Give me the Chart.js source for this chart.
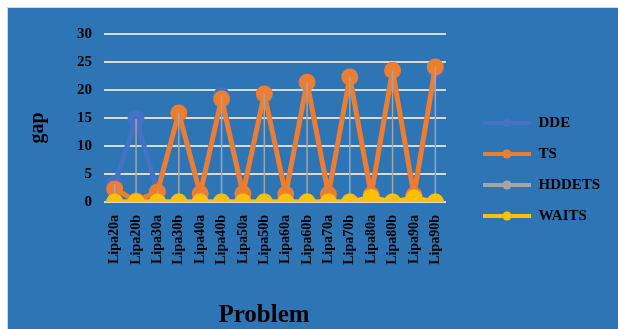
<!DOCTYPE html>
<html>
<head>
<meta charset="utf-8">
<script src="https://cdn.jsdelivr.net/npm/chart.js@4.4.1/dist/chart.umd.min.js"></script>
<style>
  html, body { margin: 0; padding: 0; background: #fff; }
  #frame { position: absolute; left: 7px; top: 7px; width: 610px; height: 321px;
           background: #2E75B6; border-left: 1px solid #d9d9d9; border-top: 1px solid #d9d9d9; }
  #gap-chart { position: absolute; left: 0; top: 0; }
</style>
</head>
<body>
<div id="frame"><canvas id="gap-chart" width="610" height="321"></canvas></div>
<script>
// Problems on the x axis
const problems = ['Lipa20a','Lipa20b','Lipa30a','Lipa30b','Lipa40a','Lipa40b','Lipa50a','Lipa50b',
                  'Lipa60a','Lipa60b','Lipa70a','Lipa70b','Lipa80a','Lipa80b','Lipa90a','Lipa90b'];

// gap per algorithm
const ddeGap    = [3.2, 14.8, 2.0, 15.9, 1.5, 19.0, 1.5, 19.3, 1.4, 21.4, 1.4, 22.3, 1.3, 23.5, 1.2, 23.6];
const tsGap     = [2.3, 0.2, 1.8, 15.9, 1.5, 18.4, 1.5, 19.3, 1.4, 21.4, 1.4, 22.3, 1.3, 23.5, 1.2, 24.1];
const hddetsGap = [0, 0, 0, 0, 0, 0, 0, 0, 0, 0, 0, 0, 0, 0, 0, 0];
const waitsGap  = [0, 0, 0, 0, 0, 0, 0, 0, 0, 0, 0, 0, 0.8, 0, 0.7, 0];

const yTicks = [0, 5, 10, 15, 20, 25, 30];

const serif = 'Liberation Serif';
const legendLineWidth = 48;

function makeSeries(label, data, colour, order) {
  return {
    label: label,
    data: data,
    borderColor: colour,
    backgroundColor: colour,
    pointBackgroundColor: colour,
    pointBorderColor: colour,
    borderWidth: 5,
    borderCapStyle: 'round',
    borderJoinStyle: 'round',
    pointRadius: 6,
    pointHoverRadius: 6,
    tension: 0,
    order: order
  };
}

// Excel style drop lines, from the highest point of each category down to 0
const dropLines = {
  id: 'dropLines',
  afterDatasetDraw(chart, args) {
    if (chart.data.datasets[args.index].label !== 'HDDETS') return;
    const ctx = chart.ctx;
    const x = chart.scales.x, y = chart.scales.y;
    ctx.save();
    ctx.strokeStyle = '#A5A5A5';
    ctx.lineWidth = 1.5;
    problems.forEach((p, i) => {
      const top = Math.max(ddeGap[i], tsGap[i], hddetsGap[i], waitsGap[i]);
      const px = x.getPixelForValue(i);
      ctx.beginPath();
      ctx.moveTo(px, y.getPixelForValue(top));
      ctx.lineTo(px, y.getPixelForValue(0));
      ctx.stroke();
    });
    ctx.restore();
  }
};

// Put a marker on each legend line
const legendMarkers = {
  id: 'legendMarkers',
  afterDraw(chart) {
    const lg = chart.legend;
    const ctx = chart.ctx;
    const fontSize = lg.options.labels.font.size;
    ctx.save();
    lg.legendHitBoxes.forEach((box, i) => {
      ctx.fillStyle = lg.legendItems[i].strokeStyle;
      ctx.beginPath();
      ctx.arc(box.left + legendLineWidth / 2, box.top + fontSize / 2, 4.5, 0, Math.PI * 2);
      ctx.fill();
    });
    ctx.restore();
  }
};

// Axis titles placed like in the figure
const axisTitles = {
  id: 'axisTitles',
  afterDraw(chart) {
    const ctx = chart.ctx;
    const area = chart.chartArea;
    ctx.save();
    ctx.fillStyle = '#000';
    ctx.textAlign = 'center';
    ctx.textBaseline = 'middle';
    ctx.font = 'bold 25px "' + serif + '"';
    ctx.fillText('Problem', (area.left + area.right) / 2 - 11, 308);
    ctx.translate(30, 120);
    ctx.rotate(-Math.PI / 2);
    ctx.font = 'bold 20px "' + serif + '"';
    ctx.fillText('gap', 0, 0);
    ctx.restore();
  }
};

var gapctx = document.getElementById('gap-chart').getContext('2d');
var gapChart = new Chart(gapctx, {
  type: 'line',
  data: {
    labels: problems,
    datasets: [
      makeSeries('DDE', ddeGap, '#4472C4', 4),
      makeSeries('TS', tsGap, '#ED7D31', 3),
      makeSeries('HDDETS', hddetsGap, '#A5A5A5', 2),
      makeSeries('WAITS', waitsGap, '#FFC000', 1)
    ]
  },
  plugins: [dropLines, legendMarkers, axisTitles],
  options: {
    responsive: false,
    maintainAspectRatio: false,
    animation: false,
    devicePixelRatio: 1,
    layout: {
      padding: { top: 26, right: 11, bottom: 24, left: 0 }
    },
    scales: {
      x: {
        offset: true,
        grid: { display: false },
        border: { display: false },
        ticks: {
          autoSkip: false,
          maxRotation: 90,
          minRotation: 90,
          padding: 5,
          color: '#000',
          font: { family: serif, weight: 'bold', size: 14 }
        },
        afterFit: function (scale) { scale.height = 103; }
      },
      y: {
        min: 0,
        max: 30,
        afterBuildTicks: function (scale) { scale.ticks = yTicks.map(v => ({ value: v })); },
        grid: { color: '#D9D9D9', lineWidth: 2, drawTicks: false },
        border: { display: false },
        ticks: {
          padding: 12,
          color: '#000',
          font: { family: serif, weight: 'bold', size: 15 }
        },
        afterFit: function (scale) { scale.width = 96; }
      },
      // spacer between plot and legend
      gapRight: {
        position: 'right',
        display: true,
        grid: { display: false },
        border: { display: false },
        ticks: { display: false },
        afterFit: function (scale) { scale.width = 21; }
      }
    },
    plugins: {
      tooltip: { enabled: false },
      legend: {
        position: 'right',
        reverse: true,
        maxWidth: 140,
        labels: {
          usePointStyle: true,
          pointStyle: 'line',
          pointStyleWidth: legendLineWidth,
          padding: 16,
          color: '#000',
          font: { family: serif, weight: 'bold', size: 15 },
          generateLabels: function (chart) {
            const items = Chart.defaults.plugins.legend.labels.generateLabels(chart);
            items.forEach(it => { it.pointStyle = 'line'; it.lineWidth = 4; });
            return items;
          }
        }
      }
    }
  }
});
</script>
</body>
</html>
